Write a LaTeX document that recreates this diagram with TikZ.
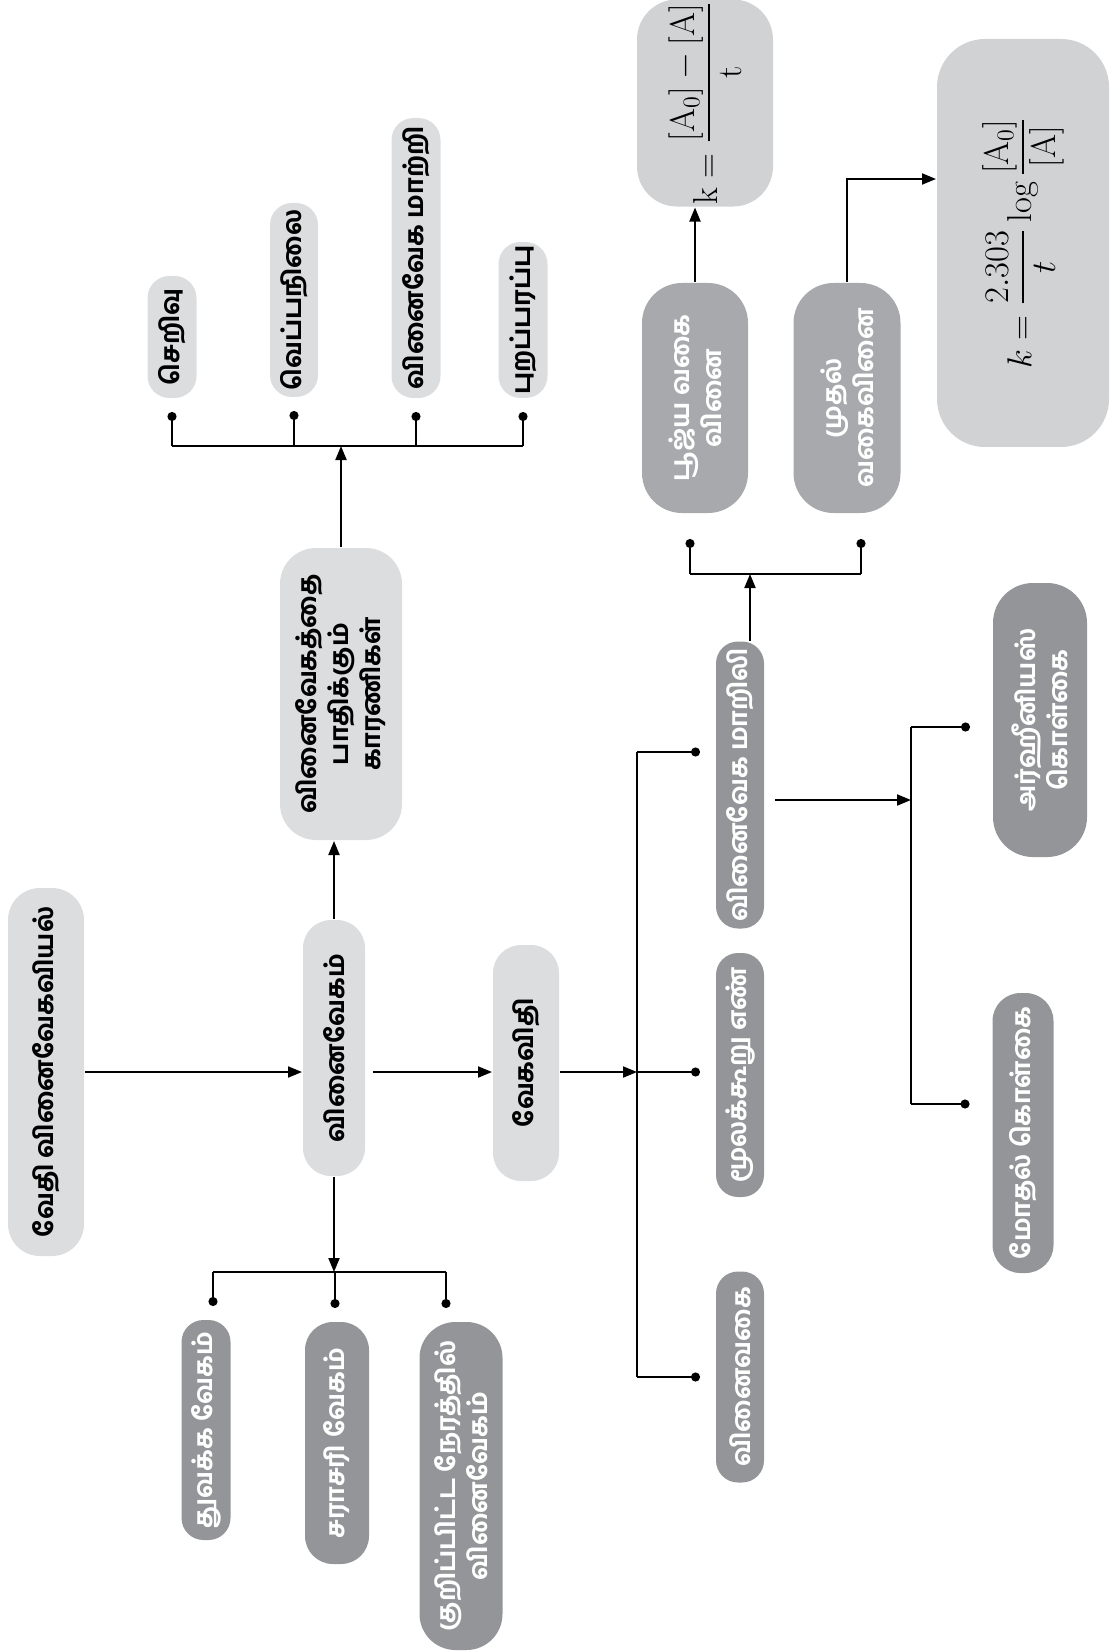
\documentclass[tikz,border=0pt]{standalone}
\usepackage{fontspec}
\usepackage{amsmath}
\newfontfamily\tamil[Script=Tamil]{Hind Madurai Bold}
\usetikzlibrary{arrows.meta, positioning, calc}
\definecolor{boxlight}{HTML}{DCDDDF}
\definecolor{boxdark}{HTML}{939598}
\definecolor{boxmid}{HTML}{A7A9AC}
\definecolor{boxform}{HTML}{D1D2D4}

\begin{document}
\begin{tikzpicture}[x=0.5pt, y=-0.5pt, line width=1pt,
    every node/.style={rotate=90, rounded corners=11pt, inner sep=1pt, align=center,
      font=\tamil\fontsize{12.8}{16}\selectfont},
    lightbox/.style={fill=boxlight, text=black},
    darkbox/.style={fill=boxdark, text=white},
    midbox/.style={fill=boxmid, text=white, rounded corners=20pt},
    formbox/.style={fill=boxform, text=black, rounded corners=20pt,
      font=\fontsize{17.28}{20}\selectfont},
    arr/.style={-{Triangle[length=7pt,width=5.5pt]}},
    dotend/.style={-{Circle[length=4.5pt]}}]
    \useasboundingbox (0,0) rectangle (1109,1652);

    % main chain
    \node[lightbox, minimum width=184pt, minimum height=38pt, rounded corners=16pt] (chem) at (46,1072) {வேதி வினைவேகவியல்};
    \node[lightbox, minimum width=128pt, minimum height=31pt, rounded corners=14pt] (rate) at (334,1048) {வினைவேகம்};
    \node[lightbox, minimum width=118pt, minimum height=33pt, rounded corners=14pt] (law) at (526,1063) {வேகவிதி};
    \node[lightbox, minimum width=146pt, minimum height=61pt, rounded corners=18pt] (factors) at (341,694) {வினைவேகத்தை\\பாதிக்கும்\\காரணிகள்};

    % factors
    \node[lightbox, minimum width=61pt, minimum height=24.5pt] (conc) at (172,337) {செறிவு};
    \node[lightbox, minimum width=97pt, minimum height=24pt] (temp) at (294,300) {வெப்பநிலை};
    \node[lightbox, minimum width=140pt, minimum height=24.5pt] (catal) at (416,258) {வினைவேக மாற்றி};
    \node[lightbox, minimum width=78pt, minimum height=24.5pt] (surf) at (523,320) {புறப்பரப்பு};

    % kinds of rate
    \node[darkbox, minimum width=110pt, minimum height=24.5pt] (init) at (206,1430) {துவக்க வேகம்};
    \node[darkbox, minimum width=121pt, minimum height=32pt, rounded corners=14pt] (avg) at (337,1443) {சராசரி வேகம்};
    \node[darkbox, minimum width=164pt, minimum height=41.5pt, rounded corners=18pt] (inst) at (461,1486) {குறிப்பிட்ட நேரத்தில்\\வினைவேகம்};

    % rate law
    \node[darkbox, minimum width=143.5pt, minimum height=24pt] (rconst) at (740,785) {வினைவேக மாறிலி};
    \node[darkbox, minimum width=122pt, minimum height=24pt] (molec) at (740,1075) {மூலக்கூறு எண்};
    \node[darkbox, minimum width=105.5pt, minimum height=24pt] (order) at (740,1377) {வினைவகை};

    \node[midbox, minimum width=115pt, minimum height=53pt] (zero) at (695,398) {பூஜ்ய வகை\\வினை};
    \node[midbox, minimum width=115pt, minimum height=53.5pt] (first) at (847,398) {முதல்\\வகைவினை};
    \node[formbox, minimum width=101.5pt, minimum height=68pt] (zform) at (705,103) {$\mathrm{k}=\dfrac{[\mathrm{A_0}]-[\mathrm{A}]}{\mathrm{t}}$};
    \node[formbox, minimum width=204pt, minimum height=86pt, rounded corners=24pt] (fform) at (1023,243) {$k=\dfrac{2.303}{t}\log\dfrac{[\mathrm{A_0}]}{[\mathrm{A}]}$};

    \node[darkbox, minimum width=137pt, minimum height=47pt, rounded corners=20pt] (arrh) at (1040,720) {அர்ஹீனியஸ்\\கொள்கை};
    \node[darkbox, minimum width=140pt, minimum height=30.5pt, rounded corners=14pt] (coll) at (1023,1133) {மோதல் கொள்கை};

    % connectors
    \coordinate (rbusT) at (637,752);
    \coordinate (rbusB) at (637,1377);
    \coordinate (tbus) at (341,446);
    \coordinate (bbus) at (335,1272);
    \coordinate (obus) at (750,574);
    \coordinate (tbusA) at (911,727);
    \coordinate (tbusB) at (911,1104);

    \draw[arr] (chem.south) -- (chem.south -| rate.north);
    \draw[arr, shorten <=3.5pt] (chem.south -| rate.south) -- (chem.south -| law.north);
    \draw[arr] (chem.south -| law.south) -- (chem.south -| rbusT);
    \draw (rbusT) -- (rbusB);
    \draw[dotend] (rbusT) -- ($(rbusT -| rconst.north)+(-15,0)$);
    \draw[dotend] (chem.south -| rbusT) -- ($(chem.south -| molec.north)+(-15,0)$);
    \draw[dotend] (rbusB) -- ($(rbusB -| order.north)+(-15,0)$);

    \draw[arr] (rate.east) -- (rate.east |- factors.west);
    \draw[arr] (factors.east) -- (tbus);
    \draw (tbus -| conc.center) -- (tbus -| surf.center);
    \foreach \n in {conc, temp, catal, surf}
        \draw[dotend] (tbus -| \n.center) -- ($(\n.west)+(0,13)$);

    \draw[arr] (rate.west) -- (rate.west |- bbus);
    \draw ($(bbus -| init.center)+(7,0)$) -- ($(bbus -| inst.center)+(-15,0)$);
    \foreach \n/\dx in {init/7, avg/-2, inst/-15}
        \draw[dotend] ($(bbus -| \n.center)+(\dx,0)$) -- ($(\n.east)+(\dx,-13)$);

    \draw[arr] ($(rconst.east)+(10,0)$) -- (obus);
    \draw ($(obus -| zero.center)+(-5,0)$) -- ($(obus -| first.center)+(14,0)$);
    \draw[dotend] ($(obus -| zero.center)+(-5,0)$) -- ($(zero.west)+(-5,25)$);
    \draw[dotend] ($(obus -| first.center)+(14,0)$) -- ($(first.west)+(14,25)$);
    \draw[arr] (zero.east) -- (zero.east |- zform.west);
    \draw[arr] (first.east) |- ($(fform.north)+(0,-64)$);

    \draw[arr] ($(rconst.south)+(10,15)$) -- ($(rconst.south -| tbusA)+(0,15)$);
    \draw (tbusA) -- (tbusB);
    \draw[dotend] (tbusA) -- ($(tbusA -| arrh.north)+(-22,0)$);
    \draw[dotend] (tbusB) -- ($(tbusB -| coll.north)+(-22,0)$);
\end{tikzpicture}
\end{document}
